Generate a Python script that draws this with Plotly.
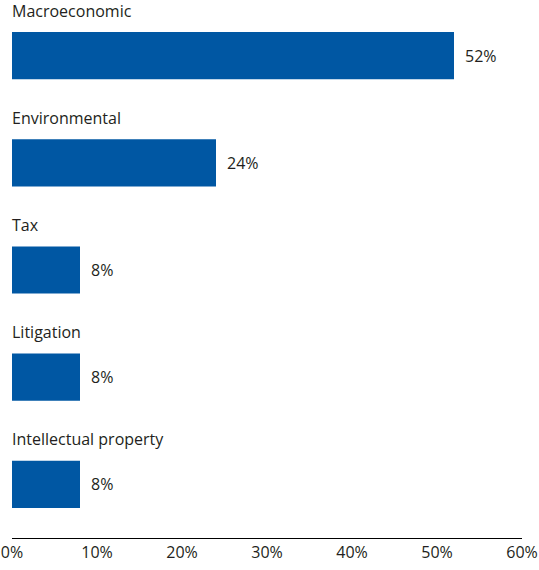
import plotly.graph_objects as go

categories = ["Macroeconomic", "Environmental", "Tax", "Litigation", "Intellectual property"]
values = [52, 24, 8, 8, 8]
tick_vals = [0, 10, 20, 30, 40, 50, 60]
tick_text = ["0%", "10%", "20%", "30%", "40%", "50%", "60%"]

bar_color = "#0057A3"
text_color = "#231F20"
font_family = "Open Sans, Noto Sans, sans-serif"

ypos = list(range(len(categories)))

fig = go.Figure()
fig.add_trace(go.Bar(
    x=values, y=ypos, orientation="h",
    marker=dict(color=bar_color, line=dict(width=0)),
    width=0.44, hoverinfo="skip",
))

annotations = []
for i, (c, v) in enumerate(zip(categories, values)):
    annotations.append(dict(x=0, y=i, xref="x", yref="y", text=c, showarrow=False,
                            xanchor="left", yanchor="middle", yshift=45, xshift=-1,
                            borderpad=0,
                            font=dict(size=16, color=text_color, family=font_family)))
    annotations.append(dict(x=v, y=i, xref="x", yref="y", text=f"{v}%", showarrow=False,
                            xanchor="left", yanchor="middle", xshift=9, yshift=0,
                            font=dict(size=16, color=text_color, family=font_family)))

fig.update_layout(
    width=539, height=570,
    margin=dict(l=12, r=17, t=2, b=32, autoexpand=False),
    paper_bgcolor="white", plot_bgcolor="white",
    showlegend=False,
    annotations=annotations,
    font=dict(family=font_family, color=text_color),
    xaxis=dict(range=[0, 60], tickvals=tick_vals, ticktext=tick_text, automargin=False,
               showgrid=False, zeroline=False, showline=True, linecolor="black", linewidth=1,
               ticks="", tickfont=dict(size=16, color=text_color), fixedrange=True,
               ticklabeloverflow="allow"),
    yaxis=dict(range=[4.5, -0.5], showticklabels=False, showgrid=False, zeroline=False,
               showline=False, fixedrange=True, automargin=False),
)

fig.write_html("out.html", config={"displayModeBar": False},
               post_script="document.body.style.margin='0';document.body.style.overflow='hidden';")
